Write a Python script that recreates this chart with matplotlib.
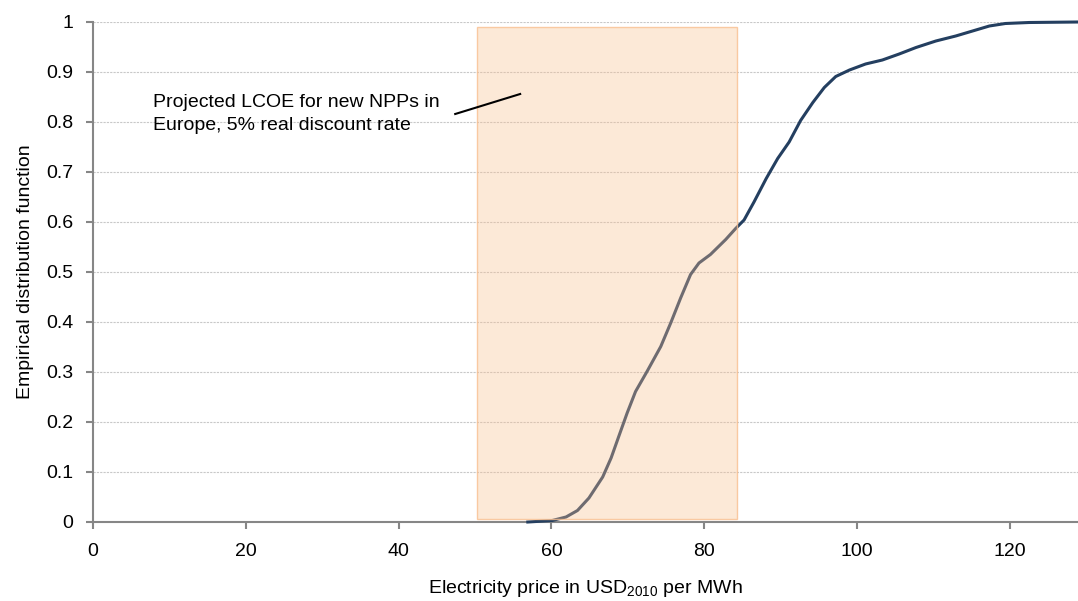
import numpy as np
import matplotlib.pyplot as plt
from matplotlib.patches import Rectangle

plt.rcParams['font.family'] = ['Liberation Sans', 'DejaVu Sans']
plt.rcParams['mathtext.default'] = 'regular'

# empirical CDF of electricity prices (USD2010/MWh)
price = [56.9, 60.1, 61.9, 63.4, 64.9, 66.7, 67.8, 68.8, 69.9, 71.0, 72.5,
         74.3, 75.6, 76.9, 78.2, 79.3, 80.8, 82.8, 84.1, 85.2, 86.5, 88.1,
         89.6, 91.1, 92.6, 94.2, 95.7, 97.2, 99.0, 101.1, 103.3, 105.5,
         107.7, 110.3, 112.9, 115.1, 117.3, 119.4, 122.5, 128.9]
edf = [0.0, 0.003, 0.010, 0.023, 0.048, 0.090, 0.128, 0.171, 0.218, 0.261, 0.301,
       0.351, 0.398, 0.448, 0.495, 0.518, 0.535, 0.565, 0.587, 0.604, 0.640, 0.687,
       0.727, 0.760, 0.803, 0.839, 0.869, 0.891, 0.904, 0.916, 0.924, 0.936,
       0.949, 0.962, 0.972, 0.982, 0.992, 0.997, 0.999, 1.0]

# projected LCOE band for new NPPs in Europe
lcoe_lo, lcoe_hi = 50.2, 84.3
band_bottom, band_top = 0.006, 0.99

xticks = [0, 20, 40, 60, 80, 100, 120]
yticks = [0, 0.1, 0.2, 0.3, 0.4, 0.5, 0.6, 0.7, 0.8, 0.9, 1]

fig = plt.figure(figsize=(10.78, 6.01), dpi=100)
ax = fig.add_axes([93/1078, 79/601, 985/1078, 500/601])

ax.plot(price, edf, color='#243f60', lw=2.2, clip_on=False, zorder=3,
        solid_joinstyle='round')

ax.add_patch(Rectangle((lcoe_lo, band_bottom), lcoe_hi - lcoe_lo, band_top - band_bottom,
                       facecolor=(0.976, 0.753, 0.561, 0.35),
                       edgecolor=(0.976, 0.75, 0.56, 0.8), lw=1, zorder=4))

ax.plot([47.4, 55.9], [0.816, 0.856], color='black', lw=1.5, zorder=5)
ax.text(7.8, 0.856, 'Projected LCOE for new NPPs in\nEurope, 5% real discount rate',
        fontsize=14, va='top', ha='left', linespacing=1.45, zorder=5)

ax.set_xlim(0, 128.9)
ax.set_ylim(0, 1)
ax.set_xticks(xticks)
ax.set_yticks(yticks)
ax.set_yticklabels([f'{v:g}' for v in yticks])
ax.tick_params(axis='both', labelsize=14, color='#868686', length=5, width=1.5)
ax.tick_params(axis='x', pad=10)
ax.tick_params(axis='y', pad=9)

ax.grid(axis='y', color='#c8c8c8', lw=0.8, ls=(0, (2, 1)))
ax.set_axisbelow(True)
for side in ['top', 'right']:
    ax.spines[side].set_visible(False)
for side in ['left', 'bottom']:
    ax.spines[side].set_color('#868686')
    ax.spines[side].set_linewidth(1.5)

ax.set_xlabel('Electricity price in USD$_{2010}$ per MWh', fontsize=14, labelpad=13)
ax.set_ylabel('Empirical distribution function', fontsize=14, labelpad=9)

fig.savefig('out.png', dpi=100)
